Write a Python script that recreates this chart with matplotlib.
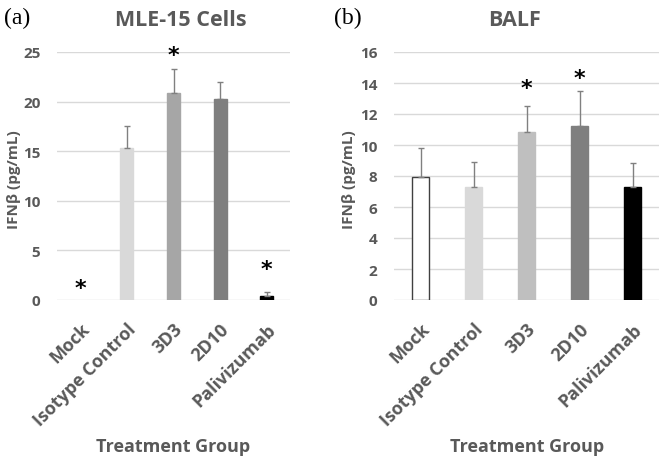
import matplotlib
matplotlib.use("Agg")
import matplotlib.pyplot as plt

plt.rcParams['font.family'] = ['Open Sans', 'DejaVu Sans']

categories = ["Mock", "Isotype Control", "3D3", "2D10", "Palivizumab"]

# Panel (a) MLE-15 Cells
a_values = [0.0, 15.3, 20.85, 20.25, 0.37]
a_err = [0.0, 2.25, 2.4, 1.75, 0.45]
a_colors = ["#ffffff", "#d9d9d9", "#a6a6a6", "#7f7f7f", "#000000"]
a_star_y = [1.25, None, 24.7, None, 3.1]

# Panel (b) BALF
b_values = [7.92, 7.28, 10.87, 11.2, 7.28]
b_err = [1.86, 1.63, 1.62, 2.28, 1.53]
b_colors = ["#ffffff", "#d9d9d9", "#bfbfbf", "#7f7f7f", "#000000"]
b_star_y = [None, None, 13.7, 14.3, None]

txt = "#595959"
fig = plt.figure(figsize=(6.64, 4.6), dpi=100)

def panel(rect, values, err, colors, stars, ymax, step, width, edge_first):
    ax = fig.add_axes(rect)
    x = list(range(len(categories)))
    edges = [("#404040" if (i == 0 and edge_first) else c) for i, c in enumerate(colors)]
    ax.bar(x, values, width=width, color=colors, edgecolor=edges, linewidth=1.0, zorder=3)
    for i, (v, e) in enumerate(zip(values, err)):
        if e > 0:
            ax.errorbar(i, v, yerr=[[0], [e]], fmt='none', ecolor="#808080",
                        elinewidth=1.0, capsize=2.5, capthick=1.0, zorder=4)
    for i, s in enumerate(stars):
        if s is not None:
            ax.text(i, s, "*", ha="center", va="center", fontsize=16,
                    fontweight="bold", color="black", family="DejaVu Sans")
    ax.set_xlim(-0.5, len(categories) - 0.5)
    ax.set_ylim(0, ymax)
    ax.set_yticks([t * step for t in range(int(ymax / step) + 1)])
    ax.yaxis.grid(True, color="#d9d9d9", linewidth=1.0, zorder=0)
    ax.set_axisbelow(True)
    for sp in ax.spines.values():
        sp.set_visible(False)
    ax.tick_params(axis="both", length=0, colors=txt, labelsize=11)
    ax.tick_params(axis="y", pad=12)
    ax.tick_params(axis="x", pad=14)
    ax.set_xticks(x)
    ax.set_xticklabels(categories, rotation=45, ha="right", rotation_mode="anchor",
                       fontsize=13, fontweight="bold", color=txt)
    for lab in ax.get_yticklabels():
        lab.set_fontweight("bold")
    return ax

ax1 = panel([57/664, 159/460, 233/664, 248/460], a_values, a_err, a_colors,
            a_star_y, 25, 5, 0.28, False)
ax2 = panel([394/664, 159/460, 265/664, 248/460], b_values, b_err, b_colors,
            b_star_y, 16, 2, 0.32, True)

for xc in (14, 349):
    fig.text(xc/664, 1 - 180/460, "IFNβ (pg/mL)", ha="center", va="center",
             rotation=90, fontsize=11, fontweight="bold", color=txt)

fig.text(181/664, 1 - 20/460, "MLE-15 Cells", ha="center", va="center",
         fontsize=15.5, fontweight="bold", color=txt)
fig.text(514/664, 1 - 20/460, "BALF", ha="center", va="center",
         fontsize=15.5, fontweight="bold", color=txt)
fig.text(4/664, 1 - 18/460, "(a)", ha="left", va="center", fontsize=17,
         family="Liberation Serif", color="black")
fig.text(334/664, 1 - 18/460, "(b)", ha="left", va="center", fontsize=17,
         family="Liberation Serif", color="black")
fig.text(173/664, 1 - 447/460, "Treatment Group", ha="center", va="center",
         fontsize=13, fontweight="bold", color=txt)
fig.text(527/664, 1 - 447/460, "Treatment Group", ha="center", va="center",
         fontsize=13, fontweight="bold", color=txt)

fig.savefig("out.png", dpi=100, facecolor="white")
